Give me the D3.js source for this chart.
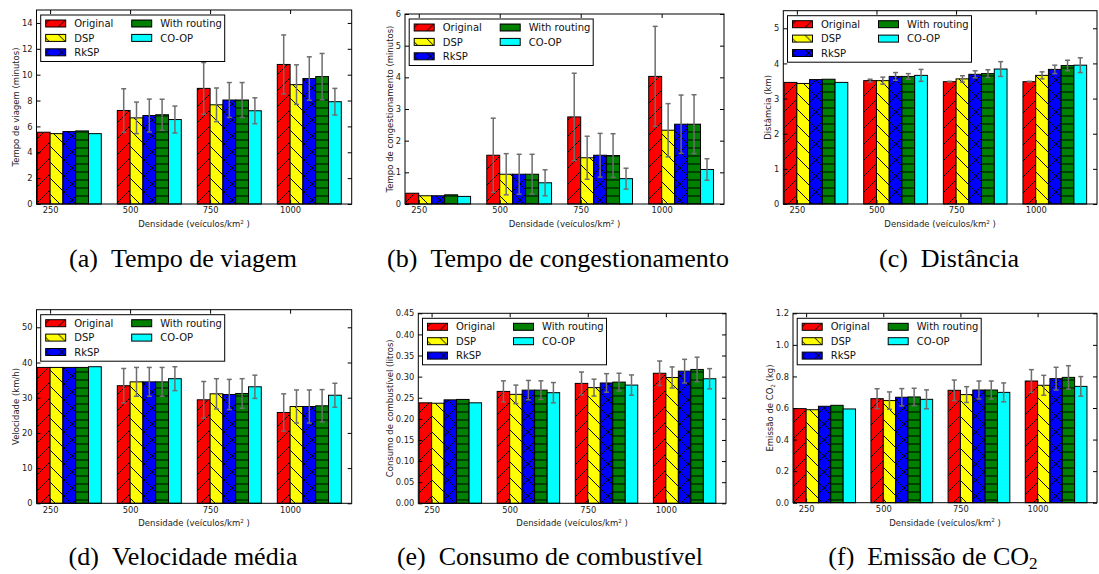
<!DOCTYPE html>
<html>
<head>
<meta charset="utf-8">
<script src="https://cdn.jsdelivr.net/npm/d3@7"></script>
<style>
  body { margin: 0; background: #fff; }
  svg { display: block; }
</style>
</head>
<body>
<svg id="fig" width="1099" height="574"></svg>
<script>
// Données

const densidades = ["250", "500", "750", "1000"];
const metodos = ["Original", "DSP", "RkSP", "With routing", "CO-OP"];

// (a) tempo de viagem (minutos) : une ligne par méthode, une colonne par densité
const viagemMedia = [
  [5.55, 7.23, 8.94, 10.79],
  [5.44, 6.66, 7.67, 9.23],
  [5.60, 6.84, 8.04, 9.70],
  [5.65, 6.90, 8.04, 9.85],
  [5.44, 6.53, 7.21, 7.91],
];
const viagemErro = [
  [0, 1.68, 2.00, 2.28],
  [0, 1.22, 1.30, 1.53],
  [0, 1.27, 1.35, 1.68],
  [0, 1.20, 1.35, 1.79],
  [0, 1.04, 1.00, 1.03],
];
const viagemTicks = [0, 2, 4, 6, 8, 10, 12, 14];

// (b) tempo de congestionamento (minutos)
const congestMedia = [
  [0.34, 1.54, 2.75, 4.03],
  [0.26, 0.94, 1.46, 2.33],
  [0.26, 0.94, 1.54, 2.52],
  [0.29, 0.94, 1.53, 2.52],
  [0.24, 0.67, 0.80, 1.09],
];
const congestErro = [
  [0, 1.17, 1.38, 1.58],
  [0, 0.65, 0.68, 0.84],
  [0, 0.63, 0.69, 0.92],
  [0, 0.63, 0.69, 0.93],
  [0, 0.41, 0.33, 0.34],
];
const congestTicks = [0, 1, 2, 3, 4, 5, 6];

// (c) distância (km)
const distMedia = [
  [3.46, 3.51, 3.48, 3.48],
  [3.43, 3.51, 3.56, 3.66],
  [3.54, 3.63, 3.69, 3.83],
  [3.55, 3.63, 3.71, 3.94],
  [3.46, 3.66, 3.84, 3.95],
];
const distErro = [
  [0, 0.04, 0.01, 0.01],
  [0, 0.10, 0.09, 0.10],
  [0, 0.11, 0.10, 0.12],
  [0, 0.08, 0.11, 0.15],
  [0, 0.17, 0.21, 0.21],
];
const distTicks = [0, 1, 2, 3, 4, 5];

// (d) velocidade (km/h)
const velMedia = [
  [38.6, 33.4, 29.4, 25.8],
  [38.6, 34.5, 31.1, 27.5],
  [38.6, 34.5, 30.9, 27.5],
  [38.6, 34.5, 31.2, 27.7],
  [38.8, 35.4, 33.1, 30.7],
];
const velErro = [
  [0, 4.9, 5.2, 5.3],
  [0, 4.1, 4.3, 4.7],
  [0, 4.1, 4.3, 4.7],
  [0, 4.1, 4.2, 4.6],
  [0, 3.4, 3.3, 3.4],
];
const velTicks = [0, 10, 20, 30, 40, 50];

// (e) consumo de combustível (litros)
const combMedia = [
  [0.238, 0.265, 0.284, 0.308],
  [0.237, 0.258, 0.274, 0.298],
  [0.245, 0.268, 0.285, 0.313],
  [0.246, 0.268, 0.287, 0.317],
  [0.238, 0.262, 0.280, 0.295],
];
const combErro = [
  [0, 0.025, 0.027, 0.029],
  [0, 0.022, 0.020, 0.025],
  [0, 0.023, 0.022, 0.028],
  [0, 0.022, 0.021, 0.029],
  [0, 0.024, 0.024, 0.024],
];
const combTicks = [0, 0.05, 0.10, 0.15, 0.20, 0.25, 0.30, 0.35, 0.40, 0.45];

// (f) emissão de CO2 (kg)
const co2Media = [
  [0.596, 0.659, 0.712, 0.771],
  [0.589, 0.647, 0.685, 0.744],
  [0.611, 0.668, 0.714, 0.786],
  [0.617, 0.670, 0.714, 0.794],
  [0.594, 0.655, 0.699, 0.737],
];
const co2Erro = [
  [0, 0.063, 0.065, 0.072],
  [0, 0.055, 0.050, 0.063],
  [0, 0.055, 0.057, 0.072],
  [0, 0.055, 0.057, 0.074],
  [0, 0.060, 0.060, 0.062],
];
const co2Ticks = [0, 0.2, 0.4, 0.6, 0.8, 1.0, 1.2];

//---------------------------------------------------------------------------------------

// Styles des séries (couleur + hachure façon matplotlib)
const cores = ["#ff0000", "#ffff00", "#0000ff", "#008000", "#00ffff"];
const hachures = ["/", "\\", "x", "-", ""];

const largura = 0.16; // largeur d'une barre en unités de groupe
const xDomain = [-0.01, 3.93];

const fontSans = "'DejaVu Sans', sans-serif";
const fontSerif = "'Liberation Serif', 'Times New Roman', serif";

// configuration des six sous-graphiques
const paineis = [
  {
    caption: [{ t: "(a)" }, { t: "Tempo de viagem", dx: 13 }],
    yLabel: [{ t: "Tempo de viagem (minutos)" }],
    media: viagemMedia, erro: viagemErro, ticks: viagemTicks, yMax: 15, fmt: d3.format("d"),
    frame: { left: 36.5, right: 351.7, top: 10, bottom: 204 },
    capX: 183, capY: 266.5,
  },
  {
    caption: [{ t: "(b)" }, { t: "Tempo de congestionamento", dx: 13 }],
    yLabel: [{ t: "Tempo de congestionamento (minutos)" }],
    media: congestMedia, erro: congestErro, ticks: congestTicks, yMax: 6, fmt: d3.format("d"),
    frame: { left: 405, right: 724, top: 14, bottom: 204 },
    capX: 558, capY: 266.5,
  },
  {
    caption: [{ t: "(c)" }, { t: "Distância", dx: 13 }],
    yLabel: [{ t: "Distâmcia (km)" }],
    media: distMedia, erro: distErro, ticks: distTicks, yMax: 5.5, fmt: d3.format("d"),
    frame: { left: 783.3, right: 1097, top: 10.7, bottom: 204 },
    capX: 949, capY: 266.5,
  },
  {
    caption: [{ t: "(d)" }, { t: "Velocidade média", dx: 13 }],
    yLabel: [{ t: "Velocidade (km/h)" }],
    media: velMedia, erro: velErro, ticks: velTicks, yMax: 55, fmt: d3.format("d"),
    frame: { left: 36.5, right: 351.7, top: 309.7, bottom: 503.3 },
    capX: 183, capY: 565,
  },
  {
    caption: [{ t: "(e)" }, { t: "Consumo de combustível", dx: 13 }],
    yLabel: [{ t: "Consumo de combustível (litros)" }],
    media: combMedia, erro: combErro, ticks: combTicks, yMax: 0.45, fmt: d3.format(".2f"),
    frame: { left: 418.3, right: 726, top: 313.3, bottom: 503.3 },
    capX: 550, capY: 565,
  },
  {
    caption: [{ t: "(f)" }, { t: "Emissão de CO", dx: 13 }, { t: "2", sub: true, shift: 4 }],
    yLabel: [{ t: "Emissão de CO" }, { t: "2", sub: true }, { t: " (kg)" }],
    media: co2Media, erro: co2Erro, ticks: co2Ticks, yMax: 1.2, fmt: d3.format(".1f"),
    frame: { left: 793, right: 1097, top: 313.3, bottom: 502.7 },
    capX: 933, capY: 565,
  },
];

//---------------------------------------------------------------------------------------

// Création du canevas SVG

const svg = d3.select("#fig");

svg.append("rect").attr("width", 1099).attr("height", 574).attr("fill", "#fff");

// motifs de hachures (un par méthode)
const defs = svg.append("defs");
const tile = 16;

cores.forEach((c, i) => {
  const pat = defs
    .append("pattern")
    .attr("id", `hatch-${i}`)
    .attr("patternUnits", "userSpaceOnUse")
    .attr("width", tile)
    .attr("height", tile);

  pat.append("rect").attr("width", tile).attr("height", tile).attr("fill", c);

  const segs = [];
  const h = hachures[i];
  if (h === "/" || h === "x") {
    segs.push([0, tile, tile, 0], [-4, 4, 4, -4], [tile - 4, tile + 4, tile + 4, tile - 4]);
  }
  if (h === "\\" || h === "x") {
    segs.push([0, 0, tile, tile], [-4, tile - 4, 4, tile + 4], [tile - 4, -4, tile + 4, 4]);
  }
  if (h === "-") {
    segs.push([0, 4, tile, 4], [0, 12, tile, 12]);
  }
  pat
    .selectAll("line")
    .data(segs)
    .join("line")
    .attr("x1", (d) => d[0])
    .attr("y1", (d) => d[1])
    .attr("x2", (d) => d[2])
    .attr("y2", (d) => d[3])
    .attr("stroke", "#000")
    .attr("stroke-width", 1);
});

// écriture de texte avec indices / exposants
function richText(sel, parts, size) {
  let shift = 0;
  parts.forEach((p) => {
    const target = p.sub ? (p.shift || size * 0.3) : p.sup ? -size * 0.38 : 0;
    sel
      .append("tspan")
      .attr("dx", p.dx || 0)
      .attr("dy", target - shift)
      .attr("font-size", p.sub || p.sup ? size * 0.66 : size)
      .text(p.t);
    shift = target;
  });
}

//---------------------------------------------------------------------------------------

// Dessin d'un sous-graphique

function drawPanel(p) {
  const f = p.frame;
  const g = svg.append("g");

  // échelles
  const scaleX = d3.scaleLinear().domain(xDomain).range([f.left, f.right]);
  const scaleY = d3.scaleLinear().domain([0, p.yMax]).range([f.bottom, f.top]);
  const bw = scaleX(largura) - scaleX(0);

  // données à plat pour les barres
  const flat = [];
  p.media.forEach((serie, k) => {
    serie.forEach((v, gi) => {
      flat.push({ k, gi, v, e: p.erro[k][gi], pos: gi + k * largura });
    });
  });

  // barres
  g.append("g")
    .selectAll("rect")
    .data(flat)
    .join("rect")
    .attr("x", (d) => scaleX(d.pos))
    .attr("y", (d) => scaleY(d.v))
    .attr("width", bw)
    .attr("height", (d) => scaleY(0) - scaleY(d.v))
    .attr("fill", (d) => `url(#hatch-${d.k})`)
    .attr("stroke", "#000")
    .attr("stroke-width", 1);

  // barres d'erreur
  const errs = g
    .append("g")
    .attr("stroke", "#6e6e6e")
    .attr("stroke-width", 1.5)
    .selectAll("g")
    .data(flat.filter((d) => d.e > 0))
    .join("g");

  const cx = (d) => scaleX(d.pos + largura / 2);
  errs
    .append("line")
    .attr("x1", cx)
    .attr("x2", cx)
    .attr("y1", (d) => scaleY(d.v - d.e))
    .attr("y2", (d) => scaleY(d.v + d.e));
  [-1, 1].forEach((s) => {
    errs
      .append("line")
      .attr("x1", (d) => cx(d) - 2.5)
      .attr("x2", (d) => cx(d) + 2.5)
      .attr("y1", (d) => scaleY(d.v + s * d.e))
      .attr("y2", (d) => scaleY(d.v + s * d.e));
  });

  // axes (graduations vers l'intérieur, sur les quatre côtés)
  const xTicks = densidades.map((d, i) => i + largura);

  const styleAxis = (a) =>
    a
      .attr("color", "#000")
      .attr("font-family", fontSans)
      .attr("font-size", 8.3)
      .call((s) => s.select(".domain").remove())
      .call((s) => s.selectAll("text").attr("fill", "#222"));

  const gY = g
    .append("g")
    .attr("transform", `translate(${f.left},0)`)
    .call(d3.axisLeft(scaleY).tickValues(p.ticks).tickFormat(p.fmt).tickSize(-4).tickPadding(4))
    .call(styleAxis);

  g.append("g")
    .attr("transform", `translate(${f.right},0)`)
    .call(d3.axisRight(scaleY).tickValues(p.ticks).tickFormat("").tickSize(-4))
    .call(styleAxis);

  g.append("g")
    .attr("transform", `translate(0,${f.bottom})`)
    .call(d3.axisBottom(scaleX).tickValues(xTicks).tickFormat((d, i) => densidades[i]).tickSize(-4).tickPadding(3.5))
    .call(styleAxis);

  g.append("g")
    .attr("transform", `translate(0,${f.top})`)
    .call(d3.axisTop(scaleX).tickValues(xTicks).tickFormat("").tickSize(-4))
    .call(styleAxis);

  // cadre
  g.append("rect")
    .attr("x", f.left)
    .attr("y", f.top)
    .attr("width", f.right - f.left)
    .attr("height", f.bottom - f.top)
    .attr("fill", "none")
    .attr("stroke", "#000")
    .attr("stroke-width", 1);

  // titre de l'axe Y, placé à gauche des étiquettes
  const bb = gY.node().getBBox();
  const yLabX = f.left + bb.x - 3;
  const yLab = g
    .append("text")
    .attr("transform", `translate(${yLabX},${(f.top + f.bottom) / 2}) rotate(-90)`)
    .attr("text-anchor", "middle")
    .attr("font-family", fontSans)
    .attr("fill", "#222");
  richText(yLab, p.yLabel, 8.5);

  // titre de l'axe X
  const xLab = g
    .append("text")
    .attr("x", (f.left + f.right) / 2)
    .attr("y", f.bottom + 23)
    .attr("text-anchor", "middle")
    .attr("font-family", fontSans)
    .attr("fill", "#222");
  richText(xLab, [{ t: "Densidade (veículos/km" }, { t: "2", sup: true }, { t: " )" }], 8.5);

  // légende
  const leg = g.append("g").attr("transform", `translate(${f.left + 4.2},${f.top + 5})`);
  leg.append("rect")
    .attr("width", 184)
    .attr("height", 46.5)
    .attr("fill", "#fff")
    .attr("stroke", "#000")
    .attr("stroke-width", 1);

  const items = leg
    .selectAll(".item")
    .data(metodos)
    .join("g")
    .attr("class", "item")
    .attr("transform", (d, i) => {
      const col = i < 3 ? 0 : 1;
      const row = i < 3 ? i : i - 3;
      return `translate(${col === 0 ? 5 : 91},${8.5 + row * 14.4})`;
    });

  items
    .append("rect")
    .attr("y", -3.5)
    .attr("width", 20)
    .attr("height", 7)
    .attr("fill", (d, i) => `url(#hatch-${i})`)
    .attr("stroke", "#000")
    .attr("stroke-width", 1);

  items
    .append("text")
    .attr("x", 28.5)
    .attr("y", 3.6)
    .attr("font-family", fontSans)
    .attr("font-size", 10)
    .attr("fill", "#111")
    .text((d) => d);

  // légende du sous-graphique
  const cap = svg
    .append("text")
    .attr("x", p.capX)
    .attr("y", p.capY)
    .attr("text-anchor", "middle")
    .attr("font-family", fontSerif)
    .attr("fill", "#000");
  richText(cap, p.caption, 26);
}

paineis.forEach(drawPanel);
</script>
</body>
</html>
